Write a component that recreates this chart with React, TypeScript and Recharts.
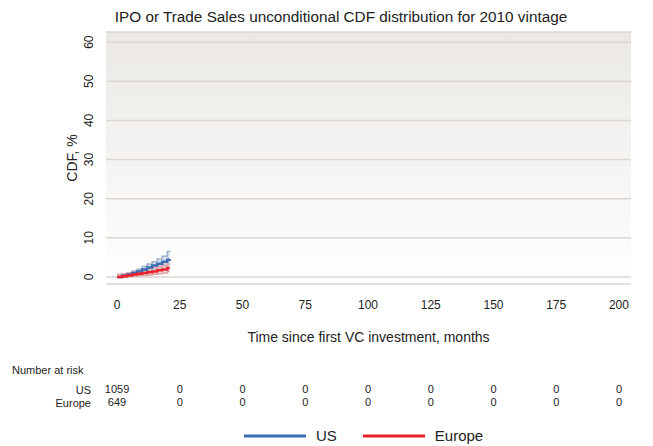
import {
  ComposedChart,
  Area,
  Line,
  XAxis,
  YAxis,
  CartesianGrid,
  Legend,
  Label,
} from 'recharts'

// months since first VC investment
const months = [0, 2, 4, 6, 8, 10, 12, 14, 16, 18, 20, 21]
const usCdf = [0, 0.3, 0.6, 1.0, 1.4, 1.9, 2.4, 2.9, 3.4, 3.9, 4.4, 4.5]
const usLow = [0, 0.1, 0.3, 0.5, 0.8, 1.2, 1.6, 1.9, 2.3, 2.6, 3.0, 3.0]
const usHigh = [0, 0.6, 1.0, 1.5, 2.0, 2.7, 3.3, 3.9, 4.6, 5.3, 6.5, 6.7]
const euCdf = [0, 0.2, 0.4, 0.6, 0.8, 1.0, 1.2, 1.4, 1.7, 1.9, 2.3, 2.3]
const euLow = [0, 0, 0.1, 0.2, 0.3, 0.4, 0.5, 0.7, 0.8, 1.0, 1.3, 1.3]
const euHigh = [0.7, 0.8, 1.0, 1.2, 1.5, 1.8, 2.1, 2.4, 2.7, 3.0, 3.3, 3.3]

const xTicks = [0, 25, 50, 75, 100, 125, 150, 175, 200]
const yTicks = [0, 10, 20, 30, 40, 50, 60]
const usAtRisk = [1059, 0, 0, 0, 0, 0, 0, 0, 0]
const euAtRisk = [649, 0, 0, 0, 0, 0, 0, 0, 0]

const US_COLOR = '#3b6db5'
const EU_COLOR = '#e8222a'
const FONT = '"Liberation Sans", Arial, Helvetica, sans-serif'
const X_DOMAIN = [-4.4, 204.8]

const data = months.map((t, i) => ({
  t,
  us: usCdf[i],
  usBand: [usLow[i], usHigh[i]],
  eu: euCdf[i],
  euBand: [euLow[i], euHigh[i]],
}))

const atRisk = (row: number[]) => (v: number) => String(row[xTicks.indexOf(v)] ?? '')

function YTick({ x, y, payload }: any) {
  const tx = x - 5
  return (
    <text
      x={tx}
      y={y}
      transform={`rotate(-90, ${tx}, ${y})`}
      textAnchor="middle"
      fontSize={12}
      fill="#222"
      fontFamily={FONT}
    >
      {payload.value}
    </text>
  )
}

function LegendBox() {
  const items = [
    { name: 'US', color: US_COLOR },
    { name: 'Europe', color: EU_COLOR },
  ]
  return (
    <div
      style={{
        height: 36,
        display: 'flex',
        alignItems: 'flex-start',
        gap: 26,
        paddingLeft: 244,
        paddingTop: 17,
        fontSize: 15,
        fontFamily: FONT,
        color: '#222',
        boxSizing: 'border-box',
        lineHeight: '18px',
      }}
    >
      {items.map((it) => (
        <div key={it.name} style={{ display: 'flex', alignItems: 'center', gap: 10, height: 18 }}>
          <svg width={62} height={4} style={{ display: 'block' }}>
            <line x1={0} y1={2} x2={62} y2={2} stroke={it.color} strokeWidth={3} />
          </svg>
          <span>{it.name}</span>
        </div>
      ))}
    </div>
  )
}

export default function App() {
  return (
    <div style={{ position: 'absolute', top: 0, left: 0, width: 653, height: 446, fontFamily: FONT }}>
      <div
        style={{
          position: 'absolute',
          top: 8,
          left: 0,
          width: 653,
          paddingLeft: 29,
          boxSizing: 'border-box',
          textAlign: 'center',
          fontSize: 15.3,
          color: '#222',
        }}
      >
        IPO or Trade Sales unconditional CDF distribution for 2010 vintage
      </div>
      <div style={{ position: 'absolute', top: 364, left: 12, fontSize: 11, color: '#222' }}>Number at risk</div>
      <ComposedChart
        width={653}
        height={446}
        data={data}
        margin={{ top: 32, right: 22, bottom: 0, left: 0 }}
      >
        <defs>
          <linearGradient id="bg" x1="0" y1="0" x2="0" y2="1">
            <stop offset="0%" stopColor="#ebe8e4" />
            <stop offset="100%" stopColor="#ffffff" />
          </linearGradient>
        </defs>
        <CartesianGrid vertical={false} fill="url(#bg)" stroke="#ddd6cf" strokeWidth={1.5} />
        <XAxis
          xAxisId="a_main"
          dataKey="t"
          type="number"
          domain={X_DOMAIN}
          ticks={xTicks}
          allowDataOverflow
          axisLine={false}
          tickLine={false}
          tickSize={0}
          tickMargin={16}
          height={100}
          tick={{ fontSize: 12, fill: '#222', fontFamily: FONT }}
        >
          <Label
            value="Time since first VC investment, months"
            position="insideTop"
            offset={48}
            style={{ fontSize: 14, fill: '#222', fontFamily: FONT }}
          />
        </XAxis>
        <XAxis
          xAxisId="b_us"
          dataKey="t"
          type="number"
          domain={X_DOMAIN}
          ticks={xTicks}
          allowDataOverflow
          axisLine={false}
          tickLine={false}
          tickSize={0}
          tickMargin={1}
          height={13}
          tickFormatter={atRisk(usAtRisk)}
          tick={{ fontSize: 11, fill: '#222', fontFamily: FONT }}
        >
          <Label value="US" position="left" offset={15} style={{ fontSize: 11, fill: '#222', fontFamily: FONT }} />
        </XAxis>
        <XAxis
          xAxisId="c_eu"
          dataKey="t"
          type="number"
          domain={X_DOMAIN}
          ticks={xTicks}
          allowDataOverflow
          axisLine={false}
          tickLine={false}
          tickSize={0}
          tickMargin={1}
          height={13}
          tickFormatter={atRisk(euAtRisk)}
          tick={{ fontSize: 11, fill: '#222', fontFamily: FONT }}
        >
          <Label value="Europe" position="left" offset={15} style={{ fontSize: 11, fill: '#222', fontFamily: FONT }} />
        </XAxis>
        <YAxis
          type="number"
          domain={[-1.8, 62.6]}
          ticks={yTicks}
          allowDataOverflow
          axisLine={false}
          tickLine={false}
          width={106}
          tick={<YTick />}
        >
          <Label
            value="CDF, %"
            angle={-90}
            position="insideLeft"
            offset={72}
            style={{ fontSize: 14, fill: '#222', fontFamily: FONT, textAnchor: 'middle' }}
          />
        </YAxis>
        <Legend
          verticalAlign="bottom"
          height={36}
          content={() => <LegendBox />}
          wrapperStyle={{ left: 0, width: 653, height: 36, bottom: 0 }}
        />
        <Area
          xAxisId="a_main"
          type="stepAfter"
          dataKey="usBand"
          stroke="#9fb2cc"
          strokeWidth={1.5}
          fill="#c6d3e6"
          fillOpacity={0.7}
          isAnimationActive={false}
          legendType="none"
        />
        <Area
          xAxisId="a_main"
          type="stepAfter"
          dataKey="euBand"
          stroke="#e3a3a5"
          strokeWidth={1.5}
          fill="#f2cfd0"
          fillOpacity={0.6}
          isAnimationActive={false}
          legendType="none"
        />
        <Line
          xAxisId="a_main"
          type="stepAfter"
          dataKey="us"
          stroke={US_COLOR}
          strokeWidth={2.5}
          dot={false}
          isAnimationActive={false}
        />
        <Line
          xAxisId="a_main"
          type="stepAfter"
          dataKey="eu"
          stroke={EU_COLOR}
          strokeWidth={2.5}
          dot={false}
          isAnimationActive={false}
        />
      </ComposedChart>
    </div>
  )
}
